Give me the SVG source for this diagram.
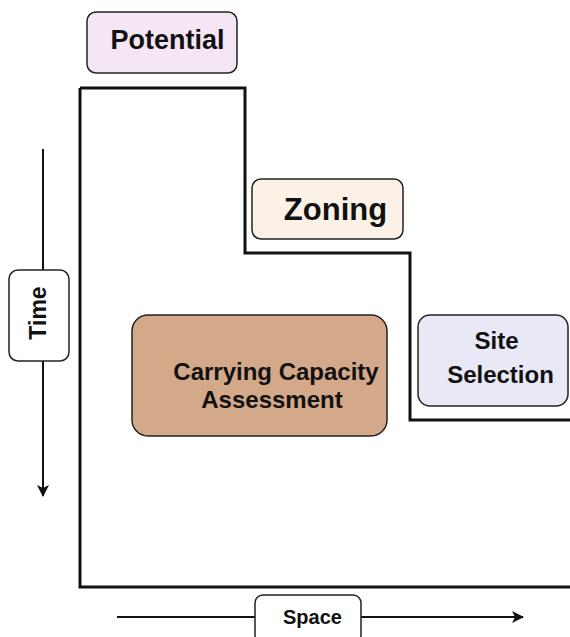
<svg xmlns="http://www.w3.org/2000/svg" width="570" height="637" viewBox="0 0 570 637">
  <defs>
    <style>
      .box { stroke: #222; stroke-width: 1.5; }
      .lbl { font-family: "Liberation Sans", Arial, sans-serif; font-weight: bold; fill: #111; text-anchor: middle; }
      .edge { fill: none; stroke: #111; stroke-width: 2; }
    </style>
    <marker id="arrow" viewBox="0 0 12 12" refX="11" refY="6" markerWidth="12" markerHeight="12" markerUnits="userSpaceOnUse" orient="auto">
      <path d="M0,0 L12,6 L0,12 L3,6 Z" fill="#111"/>
    </marker>
  </defs>
  <rect width="570" height="637" fill="#fff"/>

  <!-- stepped boundary of the phases -->
  <g id="connectors">
    <path d="M80,88 H245 V253 H410 V420 H572 M80,88 V587 H572" fill="none" stroke="#111" stroke-width="3"/>
    <line class="edge" x1="43" y1="149" x2="43" y2="496" marker-end="url(#arrow)"/>
    <line class="edge" x1="117" y1="617" x2="523" y2="617" marker-end="url(#arrow)"/>
  </g>

  <g id="potential">
    <rect class="box" x="87" y="12" width="150" height="61" rx="9" fill="#f5e6f5"/>
    <text class="lbl" x="167.5" y="49" font-size="27">Potential</text>
  </g>

  <g id="zoning">
    <rect class="box" x="252" y="179" width="151" height="60" rx="9" fill="#fbf1e6"/>
    <text class="lbl" x="335.5" y="220" font-size="31">Zoning</text>
  </g>

  <g id="site-selection">
    <rect class="box" x="418" y="315" width="150" height="91" rx="12" fill="#e8e8f6"/>
    <text class="lbl" x="496.5" y="349" font-size="24">Site</text>
    <text class="lbl" x="500.5" y="383" font-size="24">Selection</text>
  </g>

  <g id="carrying-capacity">
    <rect class="box" x="132" y="315" width="255" height="121" rx="16" fill="#d4a98a"/>
    <text class="lbl" x="276" y="380" font-size="24">Carrying Capacity</text>
    <text class="lbl" x="272" y="408" font-size="24">Assessment</text>
  </g>

  <g id="time">
    <rect class="box" x="9" y="270" width="60" height="91" rx="9" fill="#fff"/>
    <text class="lbl" x="0" y="0" font-size="23" transform="translate(46,313) rotate(-90)">Time</text>
  </g>

  <g id="space">
    <rect class="box" x="255" y="595" width="106" height="48" rx="8" fill="#fff"/>
    <text class="lbl" x="312.5" y="624" font-size="20">Space</text>
  </g>
</svg>
